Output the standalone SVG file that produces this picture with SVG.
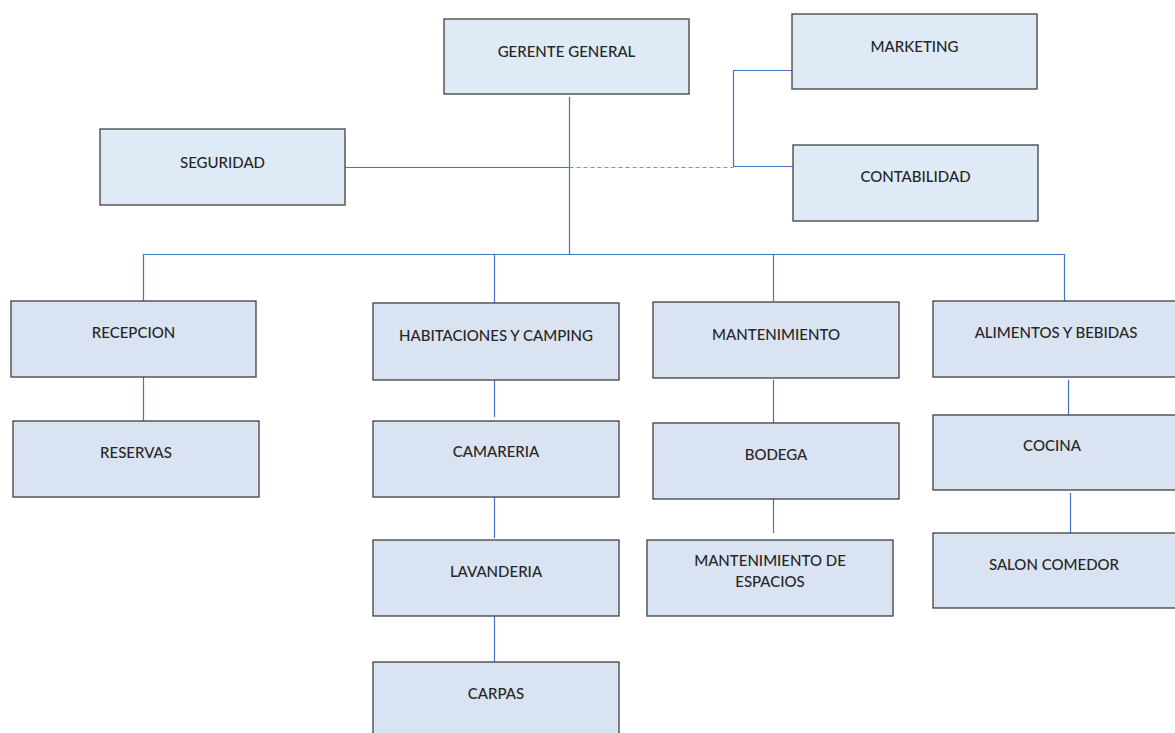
<svg xmlns="http://www.w3.org/2000/svg" width="1175" height="733" viewBox="0 0 1175 733">
<style>
.top{fill:#DEEAF6;stroke:#404040;stroke-width:1.3}
.low{fill:#DAE3F2;stroke:#404040;stroke-width:1.3}
.t{font-family:Lato,"Open Sans","Liberation Sans",sans-serif;font-size:15px;fill:#262626;text-anchor:middle;font-weight:500}
.c{stroke:#4472C4;stroke-width:1.2;fill:none}
.d{stroke:#70AD47;stroke-width:1.2;stroke-dasharray:4,3;fill:none}
</style>
<rect width="1175" height="733" fill="#fff"/>
<g id="connectors">
<path class="c" d="M569.5,97V254.5M345,167.5H569.5M733.5,167V70.5H792M733.5,166.5H793"/>
<path class="d" d="M569.5,167.5H733.5"/>
<path class="c" d="M143.5,301V254.5H1064.5V301M494.5,254.5V303M773.5,254.5V301"/>
<path class="c" d="M143.5,377V421M494.5,380V417M494.5,497V538M494.5,616V662M773.5,380V423M773.5,493V533M1068.5,380V415M1070.5,493V533"/>
</g>
<g id="gerente"><rect class="top" x="444" y="19" width="245" height="75"/><text class="t" x="566.5" y="57">GERENTE GENERAL</text></g>
<g id="marketing"><rect class="top" x="792" y="14" width="245" height="75"/><text class="t" x="914.5" y="52">MARKETING</text></g>
<g id="seguridad"><rect class="top" x="100" y="129" width="245" height="76"/><text class="t" x="222.5" y="168">SEGURIDAD</text></g>
<g id="contabilidad"><rect class="top" x="793" y="145" width="245" height="76"/><text class="t" x="915.5" y="182">CONTABILIDAD</text></g>
<g id="recepcion"><rect class="low" x="11" y="301" width="245" height="76"/><text class="t" x="133.5" y="338">RECEPCION</text></g>
<g id="reservas"><rect class="low" x="13" y="421" width="246" height="76"/><text class="t" x="136" y="458">RESERVAS</text></g>
<g id="habitaciones"><rect class="low" x="373" y="303" width="246" height="77"/><text class="t" x="496" y="341">HABITACIONES Y CAMPING</text></g>
<g id="camareria"><rect class="low" x="373" y="421" width="246" height="76"/><text class="t" x="496" y="457">CAMARERIA</text></g>
<g id="lavanderia"><rect class="low" x="373" y="540" width="246" height="76"/><text class="t" x="496" y="577">LAVANDERIA</text></g>
<g id="carpas"><rect class="low" x="373" y="662" width="246" height="76"/><text class="t" x="496" y="699">CARPAS</text></g>
<g id="mantenimiento"><rect class="low" x="653" y="302" width="246" height="76"/><text class="t" x="776" y="340">MANTENIMIENTO</text></g>
<g id="bodega"><rect class="low" x="653" y="423" width="246" height="76"/><text class="t" x="776" y="460">BODEGA</text></g>
<g id="mant-espacios"><rect class="low" x="647" y="540" width="246" height="76"/><text class="t" x="770" y="566">MANTENIMIENTO DE</text><text class="t" x="770" y="587">ESPACIOS</text></g>
<g id="alimentos"><rect class="low" x="933" y="301" width="245" height="76"/><text class="t" x="1056" y="338">ALIMENTOS Y BEBIDAS</text></g>
<g id="cocina"><rect class="low" x="933" y="415" width="245" height="75"/><text class="t" x="1052" y="451">COCINA</text></g>
<g id="salon"><rect class="low" x="933" y="533" width="245" height="75"/><text class="t" x="1054" y="570">SALON COMEDOR</text></g>
</svg>
